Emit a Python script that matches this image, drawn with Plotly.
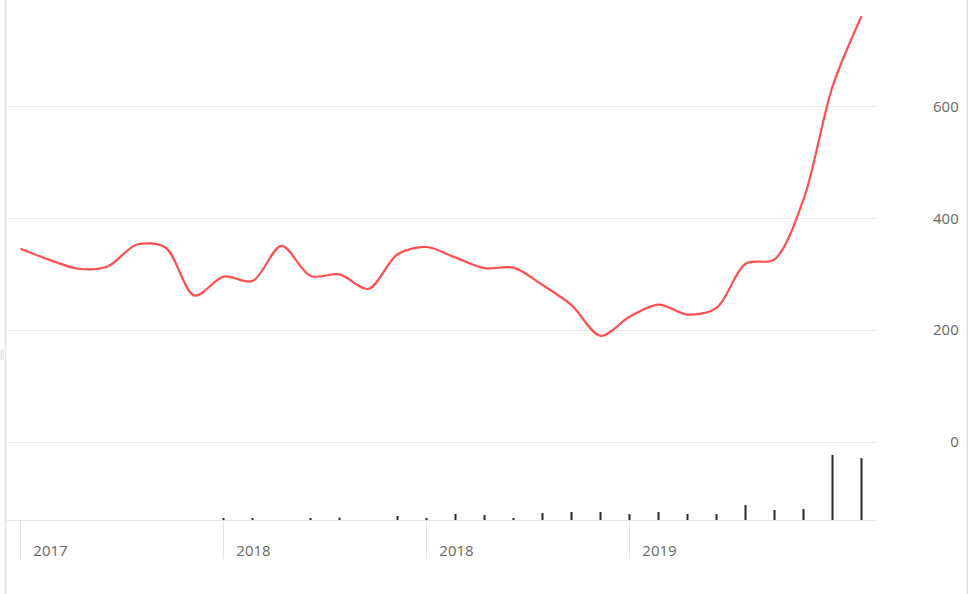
import plotly.graph_objects as go

months = ["2017-06", "2017-07", "2017-08", "2017-09", "2017-10", "2017-11", "2017-12",
          "2018-01", "2018-02", "2018-03", "2018-04", "2018-05", "2018-06", "2018-07",
          "2018-08", "2018-09", "2018-10", "2018-11", "2018-12", "2019-01", "2019-02",
          "2019-03", "2019-04", "2019-05", "2019-06", "2019-07", "2019-08", "2019-09",
          "2019-10", "2019-11"]

price = [346, 326, 310, 314, 353, 348, 262, 296, 288, 351, 297, 300, 274, 336, 349,
         330, 311, 312, 281, 245, 190, 224, 246, 228, 240, 319, 327, 434, 636, 762]

volume = [0, 0, 0, 0, 0, 0, 0, 1.5, 1.5, 0, 1.5, 2.5, 0, 4, 1.5,
          6, 5, 2, 7, 8, 8, 6, 8, 6, 6, 15, 10, 11, 65, 62]

tick_months = ["2017-06", "2018-01", "2018-08", "2019-03"]
tick_labels = ["2017", "2018", "2018", "2019"]

price_ticks = [0, 200, 400, 600]
# right-aligned labels: pad with figure spaces (same width as a digit)
price_tick_text = ["\u2007\u20070", "200", "400", "600"]

fig = go.Figure()
fig.add_trace(go.Scatter(
    x=months, y=price, mode="lines", xaxis="x", yaxis="y",
    line=dict(color="#ff4f4f", width=2.2, shape="spline", smoothing=0.9),
    hoverinfo="x+y", showlegend=False,
))
fig.add_trace(go.Bar(
    x=months, y=volume, xaxis="x", yaxis="y2",
    marker=dict(color="#2b2b2b", line=dict(width=0)),
    width=0.07, showlegend=False,
))

font = dict(family="Open Sans, sans-serif", size=15, color="#666666")

fig.update_layout(
    width=973, height=594,
    margin=dict(l=6, r=97, t=0, b=74),
    paper_bgcolor="white", plot_bgcolor="white",
    font=font,
    xaxis=dict(
        type="category", anchor="y2", range=[-0.5, 29.5],
        tickmode="array", tickvals=tick_months, ticktext=tick_labels,
        ticks="outside", ticklen=38, tickcolor="#e3e3e3", tickwidth=1,
        ticklabelshift=30, ticklabelstandoff=-21,
        showgrid=False, showline=True, linecolor="#e6e6e6", linewidth=1,
        zeroline=False, tickfont=font,
    ),
    yaxis=dict(
        domain=[0.15, 1], range=[0, 791], side="right", anchor="x",
        tickmode="array", tickvals=price_ticks, ticktext=price_tick_text,
        ticks="", ticklabelstandoff=56,
        showgrid=True, gridcolor="#ebebeb", gridwidth=1,
        zeroline=True, zerolinecolor="#ebebeb", zerolinewidth=1,
        showline=False, tickfont=font,
    ),
    yaxis2=dict(
        domain=[0, 0.15], range=[0, 78], anchor="x",
        showticklabels=False, showgrid=False, zeroline=False, showline=False,
    ),
)

# page-frame decorations (container borders)
fig.update_layout(shapes=[
    dict(type="line", xref="paper", yref="paper", x0=-0.0005, x1=-0.0005, y0=-0.2, y1=1.1,
         line=dict(color="#e3e3e3", width=1.5)),
    dict(type="line", xref="paper", yref="paper", x0=1.105, x1=1.105, y0=-0.2, y1=1.1,
         line=dict(color="#e3e3e3", width=1.5)),
    dict(type="rect", xref="paper", yref="paper", x0=-0.0069, x1=-0.0023, y0=0.307, y1=0.329,
         fillcolor="#ececec", line=dict(width=0)),
])

fig.write_html("out.html")
